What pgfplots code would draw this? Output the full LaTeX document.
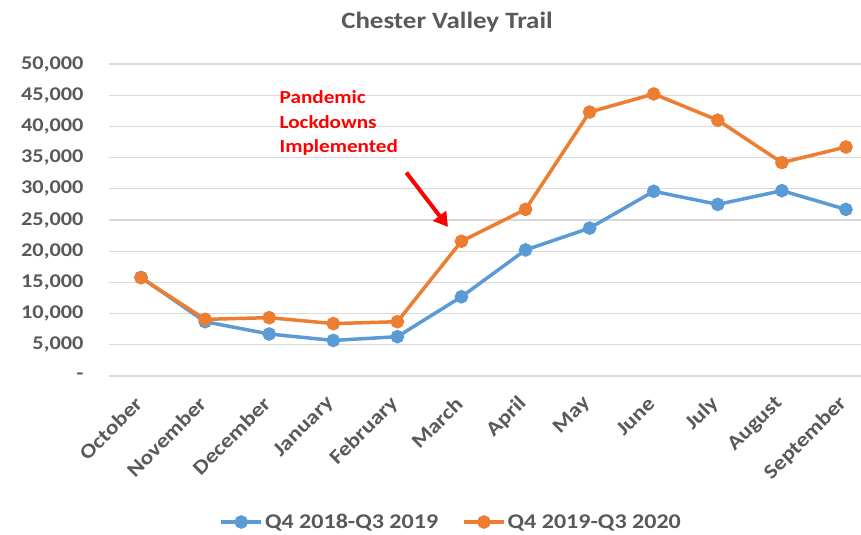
\documentclass[border=0pt]{standalone}
\usepackage{pgfplots}
\pgfplotsset{compat=1.18}
\usetikzlibrary{arrows.meta}
\usepackage{fontspec}
\setmainfont{Carlito}[FakeStretch=1.15]
\definecolor{cblue}{HTML}{5B9BD5}
\definecolor{corange}{HTML}{ED7D31}
\definecolor{tgray}{HTML}{595959}
\definecolor{ggray}{HTML}{D9D9D9}
\begin{document}
\begin{tikzpicture}[x=1bp,y=1bp]
\begin{axis}[
  at={(0,0)}, anchor=south west,
  scale only axis,
  width=769bp, height=312bp,
  xmin=-0.5, xmax=11.5,
  ymin=0, ymax=50000,
  scaled ticks=false,
  axis line style={draw=none},
  major tick length=0pt,
  ymajorgrids, grid style={ggray, line width=1.2bp},
  ytick={0,5000,...,50000},
  yticklabels={-,{5,000},{10,000},{15,000},{20,000},{25,000},{30,000},{35,000},{40,000},{45,000},{50,000}},
  yticklabel style={font=\fontsize{19.5}{20}\selectfont\bfseries, text=tgray, xshift=-22bp},
  xtick={0,...,11},
  xticklabels={October,November,December,January,February,March,April,May,June,July,August,September},
  xticklabel style={xshift=0bp, yshift=-22bp, rotate=45, anchor=east, font=\fontsize{20.5}{21}\selectfont\bfseries, text=tgray},
  legend style={at={(0.445,-0.468)}, anchor=center, draw=none, fill=none,
    font=\fontsize{21}{22}\selectfont\bfseries, text=tgray, legend columns=2,
    /tikz/every even column/.append style={column sep=22bp}},
  legend image code/.code={\draw[#1, mark repeat=2, mark phase=2] plot coordinates {(0bp,0bp) (20bp,0bp) (40bp,0bp)};},
  clip=false,
]
\addplot[cblue, line width=3.5bp, mark=*, mark size=5bp, mark options={fill=cblue, draw=cblue}] coordinates {
(0,15800) (1,8700) (2,6730) (3,5700) (4,6300) (5,12700) (6,20200) (7,23700) (8,29600) (9,27500) (10,29700) (11,26700)};
\addlegendentry{Q4 2018-Q3 2019}
\addplot[corange, line width=3.5bp, mark=*, mark size=5bp, mark options={fill=corange, draw=corange}] coordinates {
(0,15750) (1,9080) (2,9350) (3,8400) (4,8700) (5,21600) (6,26700) (7,42300) (8,45200) (9,41000) (10,34200) (11,36700)};
\addlegendentry{Q4 2019-Q3 2020}
\node[anchor=north west, align=left, text=red, font=\fontsize{18.5}{24.5}\selectfont\bfseries, inner sep=0pt] at (axis cs:2.16,45700) {Pandemic\\Lockdowns\\Implemented};
\draw[red, line width=4bp, -{Triangle[length=14bp,width=16bp]}] (axis cs:4.14,32600) -- (axis cs:4.79,23900);
\end{axis}
\node[text=tgray, font=\fontsize{23.5}{24}\selectfont\bfseries] at (338bp,354bp) {Chester Valley Trail};
\pgfresetboundingbox
\path[use as bounding box] (-109bp,-159bp) rectangle (752bp,376bp);
\end{tikzpicture}
\end{document}
